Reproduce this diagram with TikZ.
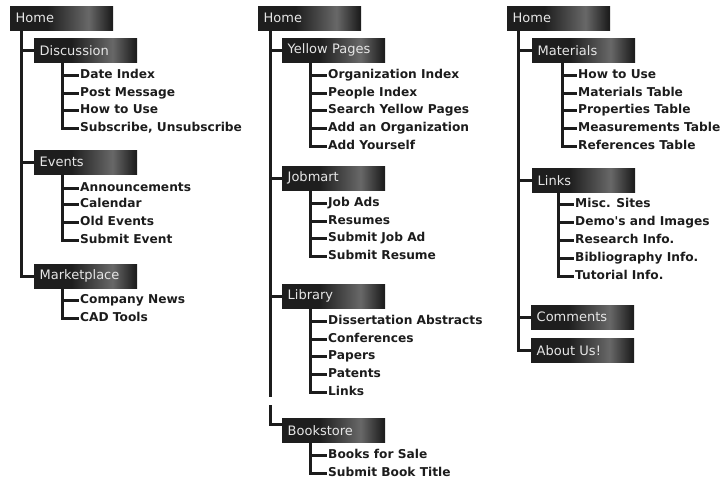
\documentclass[tikz,border=0pt]{standalone}
\usepackage{fontspec}
\setmainfont{DejaVu Sans}
\definecolor{boxdark}{HTML}{1E1E1E}
\definecolor{boxlight}{HTML}{686868}
\definecolor{ink}{HTML}{1C1C1C}
\definecolor{labelc}{HTML}{E6E6E6}
% node spans 25bp..75bp of the 100bp shading
\pgfdeclarehorizontalshading{boxshade}{100bp}{color(0bp)=(boxdark); color(43bp)=(boxdark); color(63bp)=(boxlight); color(74bp)=(boxdark); color(100bp)=(boxdark)}
\tikzset{
  navbox/.style={shading=boxshade, anchor=north west, minimum height=24pt,
    text width=92pt, inner xsep=5.5pt, inner ysep=0pt, align=left,
    text=labelc, font=\fontsize{13}{13}\selectfont},
  item/.style={anchor=west, inner xsep=1pt, inner ysep=0pt, text height=9pt, text depth=2pt,
    text=ink, font=\fontsize{12.2}{12.2}\selectfont\bfseries},
  conn/.style={draw=ink, line width=3pt}
}
\begin{document}
\begin{tikzpicture}[x=1pt,y=-1pt]
\useasboundingbox (0,0) rectangle (722,480);
% ---------- column 1 ----------
\node[navbox] (h1) at (10,6) {Home};
\node[navbox] (disc) at (34,38) {Discussion};
\node[navbox] (evt) at (34,150) {Events};
\node[navbox] (mkt) at (34,264) {Marketplace};
\node[item] (d1) at (79,75) {Date Index};
\node[item] (d2) at (79,93) {Post Message};
\node[item] (d3) at (79,110) {How to Use};
\node[item] (d4) at (79,128) {Subscribe, Unsubscribe};
\node[item] (e1) at (79,188) {Announcements};
\node[item] (e2) at (79,204) {Calendar};
\node[item] (e3) at (79,222) {Old Events};
\node[item] (e4) at (79,240) {Submit Event};
\node[item] (m1) at (79,300) {Company News};
\node[item] (m2) at (79,318) {CAD Tools};
\draw[conn] ([xshift=11.5pt]h1.south west) |- (disc.west);
\draw[conn] ([xshift=11.5pt]h1.south west) |- (evt.west);
\draw[conn] ([xshift=11.5pt]h1.south west) |- (mkt.west);
\foreach \n in {d1,d2,d3,d4} \draw[conn] ([xshift=28pt]disc.south west) |- (\n.west);
\foreach \n in {e1,e2,e3,e4} \draw[conn] ([xshift=28pt]evt.south west) |- (\n.west);
\foreach \n in {m1,m2} \draw[conn] ([xshift=28pt]mkt.south west) |- (\n.west);
% ---------- column 2 ----------
\node[navbox] (h2) at (258,6) {Home};
\node[navbox] (yp) at (282,38) {Yellow Pages};
\node[navbox] (job) at (282,166) {Jobmart};
\node[navbox] (lib) at (282,284) {Library};
\node[navbox] (book) at (282,418) {Bookstore};
\node[item] (y1) at (327,75) {Organization Index};
\node[item] (y2) at (327,93) {People Index};
\node[item] (y3) at (327,110) {Search Yellow Pages};
\node[item] (y4) at (327,128) {Add an Organization};
\node[item] (y5) at (327,146) {Add Yourself};
\node[item] (j1) at (327,203) {Job Ads};
\node[item] (j2) at (327,221) {Resumes};
\node[item] (j3) at (327,238) {Submit Job Ad};
\node[item] (j4) at (327,256) {Submit Resume};
\node[item] (l1) at (327,321) {Dissertation Abstracts};
\node[item] (l2) at (327,339) {Conferences};
\node[item] (l3) at (327,356) {Papers};
\node[item] (l4) at (327,374) {Patents};
\node[item] (l5) at (327,392) {Links};
\node[item] (b1) at (327,455) {Books for Sale};
\node[item] (b2) at (327,473) {Submit Book Title};
\coordinate (gapA) at (270,397);
\coordinate (gapB) at (270,405);
\draw[conn] ([xshift=12pt]h2.south west) |- (yp.west);
\draw[conn] ([xshift=12pt]h2.south west) |- (job.west);
\draw[conn] ([xshift=12pt]h2.south west) |- (lib.west);
\draw[conn] ([xshift=12pt]h2.south west) -- (gapA);
\draw[conn] (gapB) |- ([yshift=6pt]book.west);
\foreach \n in {y1,y2,y3,y4,y5} \draw[conn] ([xshift=28pt]yp.south west) |- (\n.west);
\foreach \n in {j1,j2,j3,j4} \draw[conn] ([xshift=28pt]job.south west) |- (\n.west);
\foreach \n in {l1,l2,l3,l4,l5} \draw[conn] ([xshift=28pt]lib.south west) |- (\n.west);
\foreach \n in {b1,b2} \draw[conn] ([xshift=28pt]book.south west) |- (\n.west);
% ---------- column 3 ----------
\node[navbox] (h3) at (507,6) {Home};
\node[navbox] (mat) at (532,38) {Materials};
\node[navbox] (lnk) at (532,168) {Links};
\node[navbox] (com) at (531,305) {Comments};
\node[navbox] (abt) at (531,338) {About Us!};
\node[item] (t1) at (577,75) {How to Use};
\node[item] (t2) at (577,93) {Materials Table};
\node[item] (t3) at (577,110) {Properties Table};
\node[item] (t4) at (577,128) {Measurements Table};
\node[item] (t5) at (577,146) {References Table};
\node[item] (k1) at (574,204) {Misc. Sites};
\node[item] (k2) at (574,222) {Demo\textquotesingle s and Images};
\node[item] (k3) at (574,240) {Research Info.};
\node[item] (k4) at (574,258) {Bibliography Info.};
\node[item] (k5) at (574,276) {Tutorial Info.};
\draw[conn] ([xshift=11.5pt]h3.south west) |- (mat.west);
\draw[conn] ([xshift=11.5pt]h3.south west) |- (lnk.west);
\draw[conn] ([xshift=11.5pt]h3.south west) |- (com.west);
\draw[conn] ([xshift=11.5pt]h3.south west) |- (abt.west);
\foreach \n in {t1,t2,t3,t4,t5} \draw[conn] ([xshift=30pt]mat.south west) |- (\n.west);
\foreach \n in {k1,k2,k3,k4,k5} \draw[conn] ([xshift=26pt]lnk.south west) |- (\n.west);
\end{tikzpicture}
\end{document}
